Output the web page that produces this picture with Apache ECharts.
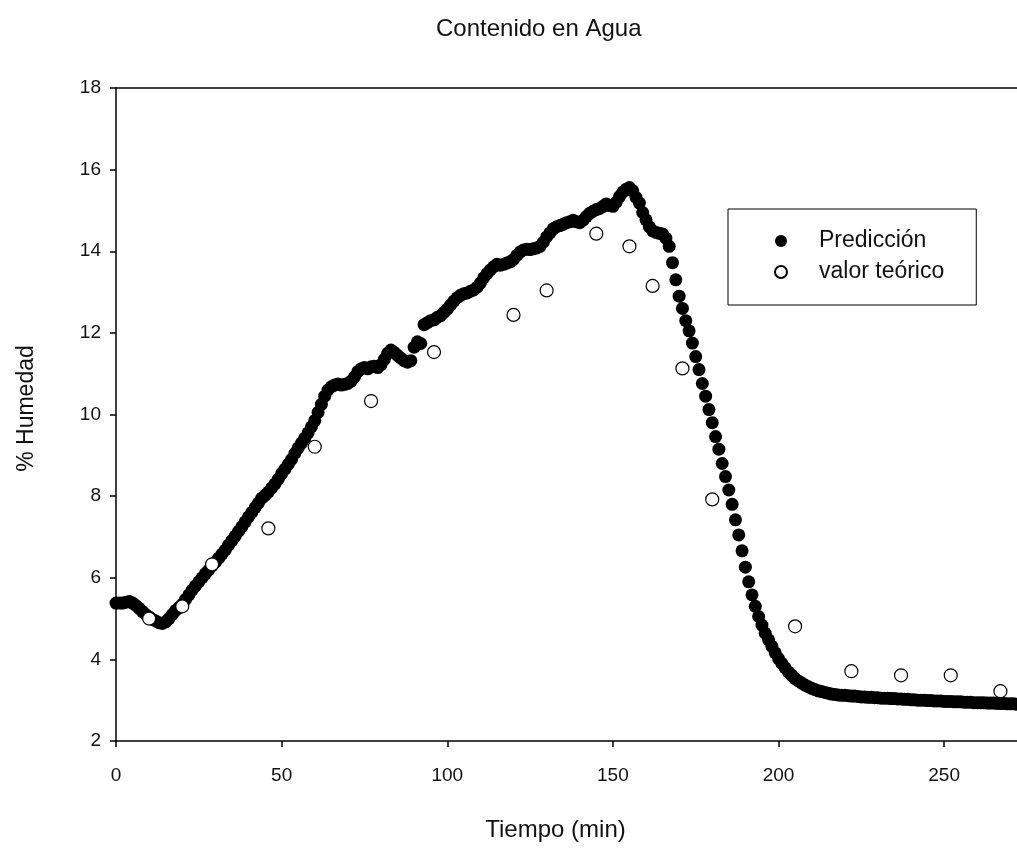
<!DOCTYPE html>
<html>
<head>
<meta charset="utf-8">
<script src="https://cdn.jsdelivr.net/npm/echarts@6/dist/echarts.min.js"></script>
<style>
html,body{margin:0;padding:0;background:#fff;}
#chart{width:1017px;height:848px;}
</style>
</head>
<body>
<div id="chart"></div>
<script>
// Predicción: one reading per minute, t = 0..272
var predTimeStart = 0;
var predValues = [
5.38,5.38,5.38,5.40,5.42,5.38,5.32,5.25,5.17,5.10,
5.04,4.98,4.94,4.90,4.88,4.92,5.00,5.10,5.20,5.27,
5.35,5.47,5.58,5.70,5.80,5.90,6.00,6.10,6.19,6.29,
6.38,6.48,6.58,6.68,6.80,6.91,7.02,7.14,7.25,7.37,
7.49,7.60,7.72,7.83,7.95,8.02,8.10,8.20,8.30,8.42,
8.55,8.66,8.78,8.90,9.05,9.18,9.30,9.42,9.55,9.70,
9.85,10.05,10.25,10.45,10.60,10.68,10.72,10.75,10.72,10.74,
10.76,10.82,10.92,11.05,11.12,11.15,11.12,11.17,11.18,11.15,
11.22,11.35,11.50,11.58,11.52,11.45,11.38,11.32,11.28,11.32,
11.65,11.78,11.74,12.20,12.25,12.30,12.32,12.38,12.42,12.50,
12.58,12.68,12.78,12.86,12.92,12.96,12.98,13.02,13.05,13.12,
13.22,13.35,13.45,13.54,13.62,13.68,13.66,13.68,13.71,13.74,
13.80,13.90,13.98,14.03,14.05,14.04,14.06,14.08,14.12,14.22,
14.35,14.45,14.55,14.60,14.63,14.66,14.70,14.72,14.76,14.72,
14.70,14.76,14.85,14.93,14.98,15.02,15.05,15.10,15.16,15.12,
15.10,15.20,15.34,15.45,15.52,15.56,15.48,15.32,15.18,14.95,
14.77,14.60,14.50,14.46,14.44,14.42,14.32,14.12,13.72,13.30,
12.90,12.60,12.30,12.05,11.75,11.42,11.10,10.76,10.45,10.12,
9.80,9.46,9.15,8.80,8.48,8.15,7.80,7.42,7.05,6.66,
6.26,5.90,5.58,5.30,5.05,4.84,4.64,4.48,4.32,4.16,
4.02,3.90,3.79,3.69,3.61,3.53,3.47,3.42,3.37,3.33,
3.29,3.26,3.23,3.21,3.19,3.17,3.15,3.14,3.13,3.12,
3.12,3.11,3.10,3.10,3.09,3.08,3.08,3.07,3.07,3.06,
3.06,3.05,3.05,3.05,3.04,3.04,3.03,3.03,3.02,3.02,
3.01,3.01,3.00,3.00,3.00,2.99,2.99,2.98,2.98,2.98,
2.97,2.97,2.97,2.96,2.96,2.96,2.95,2.95,2.95,2.94,
2.94,2.94,2.94,2.93,2.93,2.93,2.92,2.92,2.92,2.91,
2.91,2.91,2.90
];

// valor teórico
var theoTimes  = [10, 20, 29, 46, 60, 77, 96, 120, 130, 145, 155, 162, 171, 180, 205, 222, 237, 252, 267];
var theoValues = [5.0, 5.3, 6.33, 7.21, 9.21, 10.33, 11.53, 12.44, 13.04, 14.43, 14.12, 13.15, 11.13, 7.92, 4.81, 3.71, 3.61, 3.61, 3.22];

var xTickLabels = ['0', '50', '100', '150', '200', '250'];
var yTickLabels = ['2', '4', '6', '8', '10', '12', '14', '16', '18'];

var titleText = 'Contenido en Agua';
var xName = 'Tiempo (min)';
var yName = '% Humedad';
var seriesNames = ['Predicción', 'valor teórico'];

var predData = predValues.map(function (v, i) { return [predTimeStart + i, v]; });
var theoData = theoTimes.map(function (t, i) { return [t, theoValues[i]]; });

var FONT = '"Liberation Sans", Arial, sans-serif';
var TXT = '#111';

var chart = echarts.init(document.getElementById('chart'), null, {renderer: 'canvas'});
chart.setOption({
  backgroundColor: '#fff',
  animation: false,
  title: {
    text: titleText,
    left: 436,
    top: 17,
    padding: 0,
    textStyle: {fontFamily: FONT, fontSize: 24, fontWeight: 'normal', color: TXT}
  },
  legend: {
    left: 728,
    top: 209,
    orient: 'vertical',
    data: seriesNames,
    backgroundColor: '#fff',
    borderColor: '#000',
    borderWidth: 1,
    borderRadius: 0,
    padding: [19, 32, 20, 46],
    itemWidth: 12,
    itemHeight: 12,
    itemGap: 5,
    selectedMode: false,
    textStyle: {fontFamily: FONT, fontSize: 23, color: TXT, padding: [0, 0, 0, 27], lineHeight: 26}
  },
  grid: {left: 116, right: 0, top: 88, bottom: 107, containLabel: false},
  xAxis: [{
    type: 'value',
    min: 0,
    max: 272,
    interval: 50,
    name: xName,
    nameLocation: 'middle',
    nameGap: 77,
    nameTextStyle: {fontFamily: FONT, fontSize: 24, color: TXT, padding: [0, 22, 0, 0]},
    axisLine: {show: true, onZero: false, lineStyle: {color: '#000', width: 1.5}},
    axisTick: {show: true, inside: false, length: 6, lineStyle: {color: '#000', width: 1.5}},
    axisLabel: {
      margin: 25, fontFamily: FONT, fontSize: 19, color: TXT, showMaxLabel: false,
      formatter: function (v) { var i = xTickLabels.indexOf(String(v)); return i >= 0 ? xTickLabels[i] : ''; }
    },
    splitLine: {show: false}
  }, {
    type: 'value',
    position: 'top',
    min: 0,
    max: 272,
    axisLine: {show: true, lineStyle: {color: '#000', width: 1.5}},
    axisTick: {show: false},
    axisLabel: {show: false},
    splitLine: {show: false}
  }],
  yAxis: {
    type: 'value',
    min: 2,
    max: 18,
    interval: 2,
    name: yName,
    nameLocation: 'middle',
    nameGap: 78,
    nameTextStyle: {fontFamily: FONT, fontSize: 23, color: TXT, padding: [0, 0, 0, 12]},
    axisLine: {show: true, onZero: false, lineStyle: {color: '#000', width: 1.5}},
    axisTick: {show: true, inside: false, length: 6, lineStyle: {color: '#000', width: 1.5}},
    axisLabel: {
      margin: 15, fontFamily: FONT, fontSize: 19, color: TXT,
      formatter: function (v) { var i = yTickLabels.indexOf(String(v)); return i >= 0 ? yTickLabels[i] : ''; }
    },
    splitLine: {show: false}
  },
  series: [{
    name: seriesNames[0],
    type: 'scatter',
    xAxisIndex: 0,
    data: predData,
    symbol: 'circle',
    symbolSize: 13,
    itemStyle: {color: '#000', opacity: 1},
    emphasis: {disabled: true},
    clip: true,
    z: 2
  }, {
    name: seriesNames[1],
    type: 'scatter',
    xAxisIndex: 0,
    data: theoData,
    symbol: 'circle',
    symbolSize: 13,
    itemStyle: {color: '#fff', borderColor: '#000', borderWidth: 1.2, opacity: 1},
    emphasis: {disabled: true},
    clip: true,
    z: 3
  }]
});
</script>
</body>
</html>
